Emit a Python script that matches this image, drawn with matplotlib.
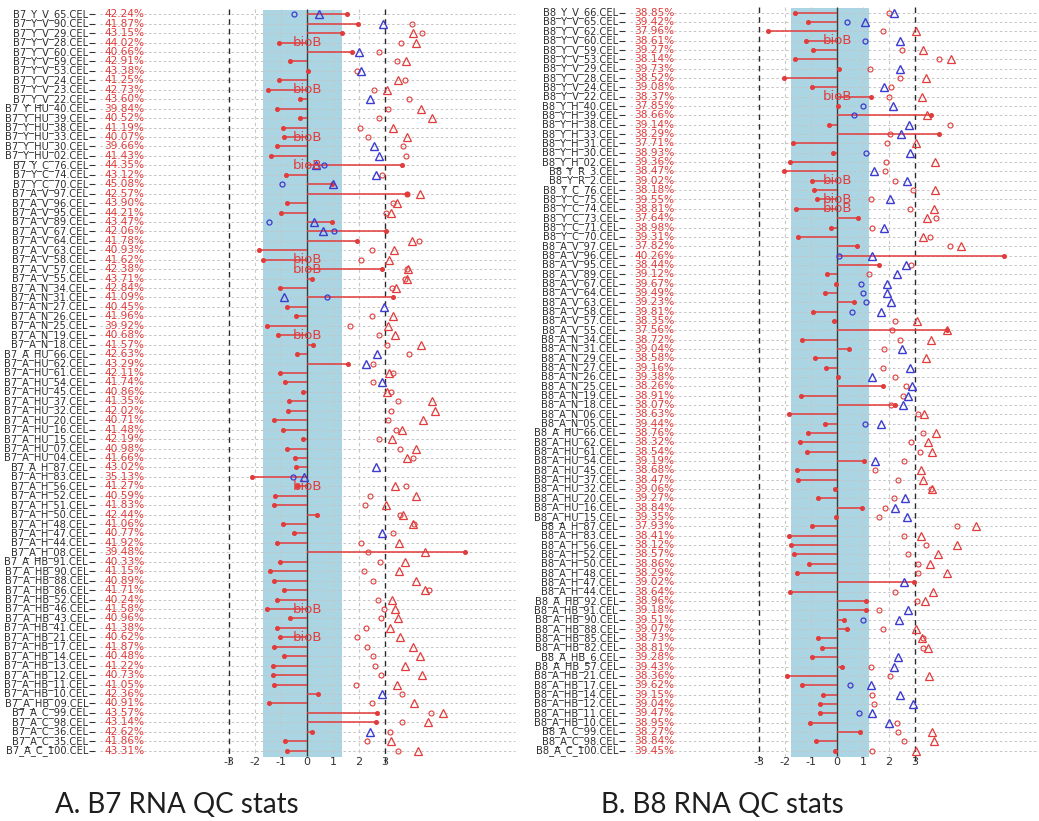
import numpy as np
import matplotlib
matplotlib.use("Agg")
import matplotlib.pyplot as plt

# ---- data: B7 panel (top row first) ----
b7_names = (
    ["B7_Y_V_%s.CEL" % s for s in ["65", "90", "29", "28", "60", "59", "53", "24", "23", "22"]]
    + ["B7_Y_HU_%s.CEL" % s for s in ["40", "39", "38", "33", "30", "02"]]
    + ["B7_Y_C_%s.CEL" % s for s in ["76", "74", "70"]]
    + ["B7_A_V_%s.CEL" % s for s in ["97", "96", "95", "89", "67", "64", "63", "58", "57", "55"]]
    + ["B7_A_N_%s.CEL" % s for s in ["34", "31", "27", "26", "25", "19", "18"]]
    + ["B7_A_HU_%s.CEL" % s for s in ["66", "62", "61", "54", "45", "37", "32", "20", "16", "15", "07", "04"]]
    + ["B7_A_H_%s.CEL" % s for s in ["87", "83", "56", "52", "51", "50", "48", "47", "44", "08"]]
    + ["B7_A_HB_%s.CEL" % s for s in ["91", "90", "88", "86", "52", "46", "43", "41", "21", "17",
                                      "14", "13", "12", "11", "10", "09"]]
    + ["B7_A_C_%s.CEL" % s for s in ["99", "98", "36", "35", "100"]]
)
b7_present = [42.24, 41.87, 43.15, 44.02, 40.66, 42.91, 43.38, 41.25, 42.73, 43.60,
              39.84, 40.52, 41.19, 40.07, 39.66, 41.43, 44.35, 43.12, 45.08, 42.57,
              43.90, 44.21, 43.47, 42.06, 41.78, 40.93, 41.62, 42.38, 43.71, 42.84,
              41.09, 40.45, 41.96, 39.92, 40.68, 41.57, 42.63, 43.29, 42.11, 41.74,
              40.86, 41.35, 42.02, 40.71, 41.48, 42.19, 40.98, 41.66, 43.02, 35.13,
              41.27, 40.59, 41.83, 42.44, 41.06, 40.77, 41.92, 39.48, 40.33, 41.15,
              40.89, 41.71, 40.24, 41.58, 40.96, 41.38, 40.62, 41.87, 40.48, 41.22,
              40.73, 41.05, 42.36, 40.91, 43.57, 43.14, 42.62, 41.86, 43.31]
b7_scale = [1.53, 1.95, 1.36, -1.06, 1.72, -0.65, 0.05, -1.09, -1.51, -0.27,
            -1.14, -0.28, -0.92, -0.88, -1.14, -1.40, 3.64, -0.80, 0.95, 3.83,
            -0.76, -1.00, 0.95, 3.04, 1.94, -1.83, -1.68, 2.88, 0.18, -1.04,
            3.29, -0.78, -0.41, -1.55, -1.12, 0.22, -0.40, 1.56, -1.04, -0.85,
            -0.14, -0.68, -0.74, -1.26, -0.92, -0.14, -0.77, -0.46, -0.42, -2.10,
            -0.37, -1.23, -1.26, 0.37, -0.92, -0.50, -1.17, 6.08, -1.05, -1.41,
            -1.26, -0.87, -1.17, -1.55, -0.65, -1.14, -1.04, -1.26, -0.87, -1.29,
            -1.29, -1.28, 0.44, -1.45, 2.68, 2.65, 0.18, -0.85, -0.76]
b7_gapdh = [-0.49, 4.03, 4.41, 3.62, 2.78, 3.45, 1.91, 3.76, 2.59, 3.94,
            3.13, 2.78, 2.05, 2.36, 3.68, 3.81, 0.67, 2.87, -0.95, 3.83,
            3.29, 3.03, -1.46, 1.04, 4.31, 2.50, 2.09, 3.85, 3.77, 3.26,
            0.77, np.nan, 2.50, 1.65, 2.78, 3.08, 3.92, 2.55, 3.29, 2.55,
            3.24, 3.49, 3.22, 3.10, 3.44, 2.78, 3.58, 4.07, np.nan, -0.53,
            3.81, 2.44, 2.23, 3.58, 4.12, 3.29, 2.06, 2.36, 2.82, 2.21,
            2.55, 4.68, 2.74, 2.95, 2.85, 2.26, 1.91, 2.32, 2.53, 2.62,
            2.85, 1.88, 3.67, 2.49, 4.76, 3.64, 3.19, 2.29, 3.49]
b7_actin = [0.46, 2.91, 4.09, 4.18, 2.00, 3.80, 2.08, 3.49, 3.06, 2.42,
            4.38, 4.82, 3.32, 3.86, 2.56, 2.76, 0.35, 2.65, 0.99, 4.35,
            3.47, 3.23, 0.27, 0.62, 4.05, 3.36, 3.15, 3.89, 3.83, 3.42,
            -0.87, 2.97, 3.32, 3.13, 3.37, 4.40, 2.68, 2.27, 3.17, 2.88,
            3.09, 4.82, 4.91, 4.45, 3.65, 3.28, 4.18, 3.85, 2.64, -0.10,
            3.38, 4.19, 3.03, 3.68, 4.09, 2.88, 3.54, 4.55, 3.77, 3.55,
            4.19, 4.55, 3.26, 3.40, 3.49, 3.19, 3.58, 4.06, 4.35, 3.77,
            4.41, 3.45, 2.87, 4.12, 5.24, 4.64, 2.42, 3.23, 4.28]
b7_biob = [3, 8, 13, 16, 26, 27, 34, 50, 63, 66]

# ---- data: B8 panel (top row first) ----
b8_names = (
    ["B8_Y_V_%s.CEL" % s for s in ["66", "65", "62", "60", "59", "53", "29", "28", "24", "22"]]
    + ["B8_Y_H_%s.CEL" % s for s in ["40", "39", "38", "33", "31", "30", "02"]]
    + ["B8_Y_R_%s.CEL" % s for s in ["3", "2"]]
    + ["B8_Y_C_%s.CEL" % s for s in ["76", "75", "74", "73", "71", "70"]]
    + ["B8_A_V_%s.CEL" % s for s in ["97", "96", "95", "89", "67", "64", "63", "58", "57", "55"]]
    + ["B8_A_N_%s.CEL" % s for s in ["34", "31", "29", "27", "26", "25", "19", "18", "06", "05"]]
    + ["B8_A_HU_%s.CEL" % s for s in ["66", "62", "61", "54", "45", "37", "32", "20", "16", "15"]]
    + ["B8_A_H_%s.CEL" % s for s in ["87", "83", "56", "52", "50", "48", "47", "44"]]
    + ["B8_A_HB_%s.CEL" % s for s in ["92", "91", "90", "88", "85", "82", "6", "57", "21", "17",
                                      "14", "12", "11", "10"]]
    + ["B8_A_C_%s.CEL" % s for s in ["99", "98", "100"]]
)
b8_present = [38.85, 39.42, 37.96, 38.61, 39.27, 38.14, 39.73, 38.52, 39.08, 38.37,
              37.85, 38.66, 39.14, 38.29, 37.71, 38.93, 39.36, 38.47, 39.02, 38.18,
              39.55, 38.81, 37.64, 38.98, 39.31, 37.82, 40.26, 38.44, 39.12, 39.67,
              39.49, 39.23, 39.81, 38.35, 37.56, 38.72, 39.04, 38.58, 39.16, 39.38,
              38.26, 38.91, 38.07, 38.63, 39.44, 38.76, 38.32, 38.54, 39.19, 38.68,
              38.47, 39.06, 39.27, 38.84, 39.35, 37.93, 38.41, 38.12, 38.57, 38.86,
              38.29, 39.02, 38.64, 38.96, 39.18, 39.51, 39.07, 38.73, 38.81, 39.28,
              39.43, 38.36, 39.62, 39.15, 39.04, 39.47, 38.95, 38.27, 38.84, 39.45]
b8_scale = [-1.62, -1.10, -2.64, -1.19, -0.91, -1.62, 0.09, -2.04, -0.97, 1.31,
            0.03, 3.60, -0.31, 3.92, -1.68, -0.15, -1.79, -2.04, -0.97, -0.88,
            -0.76, -1.58, 0.82, -0.24, -1.51, 0.78, 6.44, 1.63, -0.37, -0.05,
            -0.45, 0.65, -0.94, -0.12, 4.22, -1.36, 0.45, -0.86, -0.41, 0.03,
            1.78, -1.38, 2.23, -1.83, -0.47, -1.13, -1.42, -1.14, 1.04, -1.55,
            -1.49, -0.08, -0.73, 0.95, -0.04, -0.97, -1.86, -1.78, -1.64, -1.09,
            -1.55, 2.96, -1.81, 1.12, 1.12, 0.27, 0.37, -0.74, -0.58, -0.97,
            0.18, -1.91, -1.33, -0.54, -0.64, -0.67, -1.04, 0.88, -0.81, -0.08]
b8_gapdh = [2.00, 0.40, 1.76, 1.08, 2.49, 3.94, 1.27, 2.42, 2.08, 2.01,
            0.99, 0.67, 4.36, 2.05, 1.94, 1.13, 1.88, 1.86, 2.23, 2.91,
            1.31, 2.81, 3.80, 1.36, 3.58, 4.36, 0.06, 2.86, 1.22, 0.91,
            1.01, 1.10, 0.59, 2.23, 2.10, 2.42, 1.81, np.nan, 1.78, 2.23,
            2.64, 2.53, 2.06, 3.13, 1.08, 3.29, 2.85, 3.18, 2.58, 1.46,
            2.35, 3.62, 2.21, 1.85, 1.62, 4.63, 2.58, 3.42, 2.73, 3.13,
            3.10, np.nan, 2.23, 3.06, 1.63, 1.01, 1.76, 3.32, 3.32, np.nan,
            1.31, 2.04, 0.50, 1.36, 1.42, 0.86, 2.30, 2.36, 2.58, 1.36]
b8_actin = [2.19, 1.06, 3.04, 2.44, 3.29, 4.38, 2.42, 3.42, 1.81, 3.27,
            2.17, 3.45, 2.77, 2.46, 3.04, 2.82, 3.78, 1.44, 2.68, 3.76,
            2.03, 3.74, 3.45, 1.82, 3.32, 4.77, 1.36, 2.67, 2.32, 1.91,
            1.94, 2.06, 1.68, 3.06, 4.22, 3.60, 2.49, 3.42, 2.82, 1.33,
            2.87, 2.74, 2.55, 3.35, 1.71, 3.82, 3.51, 3.67, 1.46, 3.22,
            3.32, 3.66, 2.60, 2.24, 2.68, 5.33, 3.22, 4.62, 3.87, 3.59,
            4.22, 2.59, 3.68, 3.40, 2.72, 2.40, 3.02, 3.26, 3.49, 2.33,
            2.21, 3.54, 1.31, 2.42, 2.91, 1.36, 2.00, 3.64, 3.73, 3.02]
b8_biob = [3, 9, 18, 20, 21]

b7_band = (-1.69, 1.35)
b8_band = (-1.77, 1.23)
gapdh_limit = 1.2
actin_limit = 3.0
ticks = [-3, -2, -1, 0, 1, 2, 3]

RED = "#e23b3b"
BLUE = "#3b3bd0"
NARROW = ["Liberation Sans Narrow", "DejaVu Sans"]

W, H, DPI = 1039, 821, 100
PX = 26.0  # pixels per unit on the x scale


def draw_panel(fig, names, present, scale, gapdh, actin, biob, band,
               ax_px, zero_px, row0, step, name_right, pct_left, line_end):
    """Draw one simpleaffy-style QC panel in pixel-matched axes."""
    top, bottom = 0, 770
    ax = fig.add_axes([ax_px[0] / W, 1 - bottom / H,
                       (ax_px[1] - ax_px[0]) / W, (bottom - top) / H])
    ax.set_xlim((ax_px[0] - zero_px) / PX, (ax_px[1] - zero_px) / PX)
    ax.set_ylim((bottom - row0) / step, (top - row0) / step)
    ax.axis("off")

    def xd(px):
        return (px - zero_px) / PX

    n = len(names)
    rows = np.arange(n)

    ax.add_patch(plt.Rectangle((band[0], -0.45), band[1] - band[0], n + 0.1,
                               facecolor="#abd5e2", edgecolor="none", zorder=0))
    ax.hlines(rows, xd(name_right + 12), xd(line_end), colors="#c4c4c4",
              linestyles=(0, (2.5, 2.5)), linewidth=0.7, zorder=1)
    ax.hlines(rows, xd(name_right + 1), xd(name_right + 7), colors="#333333",
              linewidth=0.8, zorder=2)
    for t in ticks:
        if t == 0:
            ax.vlines(0, -0.6, n - 0.4, colors="#3c3c3c", linewidth=1.0, zorder=2)
        elif abs(t) == 3:
            ax.vlines(t, -0.6, n + 0.3, colors="#2a2a2a", linewidth=1.0,
                      linestyles=(0, (4, 3)), zorder=2)
        else:
            ax.vlines(t, -0.6, n - 0.4, colors="#c8c8c8", linewidth=0.8,
                      linestyles=(0, (3, 3)), zorder=1)
        ax.text(t, n + 0.2, str(t), ha="center", va="center", fontsize=8,
                family=NARROW, color="#333333", zorder=5)

    scale = np.asarray(scale)
    ax.hlines(rows, 0, scale, colors=RED, linewidth=1.1, zorder=3)
    ax.plot(scale, rows, "o", color=RED, markersize=2.6, zorder=4)

    gapdh = np.asarray(gapdh)
    actin = np.asarray(actin)
    g_ok = gapdh < gapdh_limit
    a_ok = actin < actin_limit
    ax.plot(gapdh[g_ok], rows[g_ok], "o", mfc="none", mec=BLUE, ms=3.6, mew=0.9, zorder=4)
    ax.plot(gapdh[~g_ok], rows[~g_ok], "o", mfc="none", mec=RED, ms=3.6, mew=0.8, zorder=4)
    ax.plot(actin[a_ok], rows[a_ok], "^", mfc="none", mec=BLUE, ms=5.5, mew=1.0, zorder=4)
    ax.plot(actin[~a_ok], rows[~a_ok], "^", mfc="none", mec=RED, ms=5.5, mew=0.9, zorder=4)

    for r in biob:
        ax.text(0, r, "bioB", ha="center", va="center", fontsize=9.5,
                family=NARROW, color=RED, zorder=5)

    for r, (name, pct) in enumerate(zip(names, present)):
        ax.text(xd(name_right), r, name, ha="right", va="center", fontsize=7.1,
                family=NARROW, color="#2e2e2e", zorder=5)
        ax.text(xd(pct_left), r, "%.2f%%" % pct, ha="left", va="center",
                fontsize=7.6, family=NARROW, color=RED, zorder=5)
    return ax


fig = plt.figure(figsize=(W / DPI, H / DPI), dpi=DPI)

draw_panel(fig, b7_names, b7_present, b7_scale, b7_gapdh, b7_actin, b7_biob, b7_band,
           ax_px=(0, 520), zero_px=307, row0=14.3, step=9.44,
           name_right=88, pct_left=104, line_end=515)
draw_panel(fig, b8_names, b8_present, b8_scale, b8_gapdh, b8_actin, b8_biob, b8_band,
           ax_px=(520, 1039), zero_px=837, row0=12.7, step=9.34,
           name_right=618, pct_left=634, line_end=1039)

fig.text(55 / W, 1 - 813 / H, "A. B7 RNA QC stats", fontsize=20, family="Lato",
         color="#1e1e1e", va="baseline", ha="left")
fig.text(601 / W, 1 - 813 / H, "B. B8 RNA QC stats", fontsize=20, family="Lato",
         color="#1e1e1e", va="baseline", ha="left")

fig.savefig("out.png", dpi=DPI, facecolor="white")
